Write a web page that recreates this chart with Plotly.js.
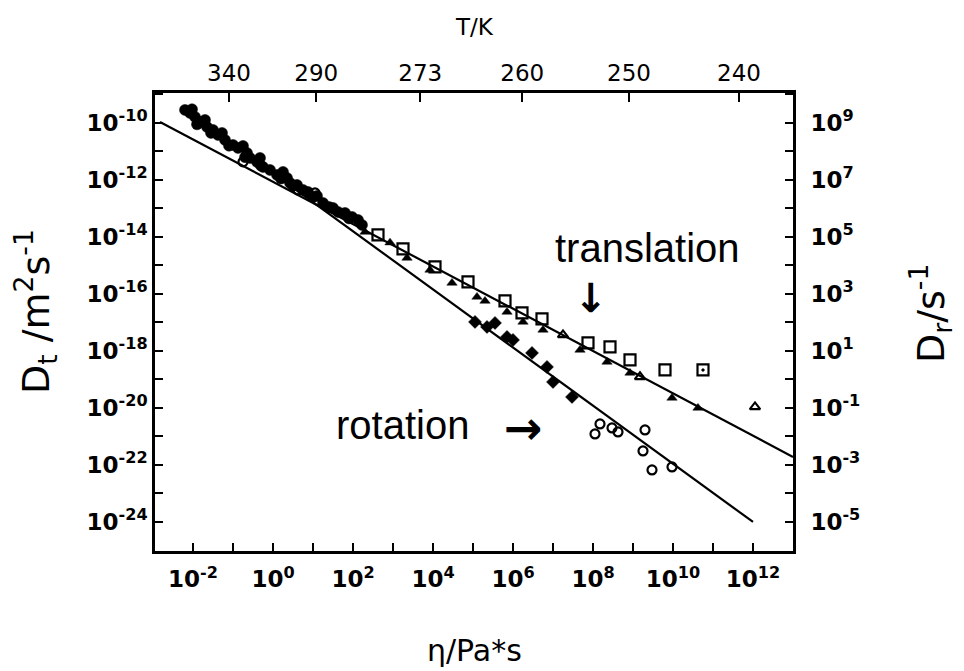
<!DOCTYPE html>
<html>
<head>
<meta charset="utf-8">
<script src="https://cdn.plot.ly/plotly-3.0.1.min.js"></script>
<style>html,body{margin:0;padding:0;background:#fff;}#chart{width:964px;height:671px;}</style>
</head>
<body>
<div id="chart"></div>
<script>
// ---- data (log10 values) ----
// x: log10(eta / Pa s), y: log10(Dt / m^2 s^-1)
const filledCircleLogEta = [-2.2,-2.025,-2.075,-1.95,-1.9,-1.825,-1.7,-1.65,-1.55,-1.5,-1.375,-1.275,-1.2,-1.1,-1.0,-0.875,-0.75,-0.7,-0.65,-0.575,-0.4,-0.325,-0.3,-0.25,-0.075,0.1,0.2,0.25,0.35,0.425,0.5,0.6,0.75,0.875,1.0,1.1,1.25,1.4,1.5,1.625,1.8,1.9,1.975,2.125,2.225];
const filledCircleLogD   = [-9.544,-9.52,-9.649,-9.789,-10.05,-9.965,-9.895,-10.14,-10.35,-10.246,-10.421,-10.351,-10.596,-10.8,-10.772,-10.877,-10.807,-11.2,-11.053,-11.228,-11.368,-11.228,-11.5,-11.544,-11.649,-11.825,-11.95,-11.719,-11.93,-12.105,-12.2,-12.175,-12.351,-12.421,-12.6,-12.561,-12.807,-12.95,-12.982,-13.123,-13.158,-13.35,-13.298,-13.404,-13.579];

const openCircleLeftLogEta = [-0.75,0.625,1.05];
const openCircleLeftLogD   = [-11.368,-12.351,-12.456];

const squareLogEta = [2.625,3.25,4.05,4.875,5.8,6.225,6.725,7.875,8.425,8.925,9.8];
const squareLogD   = [-13.93,-14.421,-15.053,-15.579,-16.246,-16.667,-16.877,-17.719,-17.86,-18.316,-18.667];
const boxedSquareLogEta = [10.75];
const boxedSquareLogD   = [-18.667];

const triangleLogEta = [2.3,2.925,3.35,3.925,4.475,5.1,5.3,5.85,6.25,6.75,7.675,8.35,8.925,9.975,10.625];
const triangleLogD   = [-13.825,-14.2,-14.737,-15.158,-15.614,-16.105,-16.246,-16.632,-16.982,-17.263,-17.965,-18.386,-18.772,-19.649,-20.0];

const openTriangleLogEta = [7.25,9.175,12.05];
const openTriangleLogD   = [-17.439,-18.912,-19.965];

const diamondLogEta = [5.05,5.35,5.55,5.85,6.0,6.475,6.85,7.0,7.475];
const diamondLogD   = [-16.982,-17.158,-17.018,-17.509,-17.614,-18.07,-18.561,-19.088,-19.614];

const openCircleLogEta = [8.175,8.05,8.475,8.625,9.3,9.25,9.475,9.975];
const openCircleLogD   = [-20.561,-20.912,-20.702,-20.842,-20.772,-21.509,-22.175,-22.07];

// fitted lines (end points)
const transLineLogEta = [-2.825, 13.0];
const transLineLogD   = [-9.965, -21.72];
const rotLineLogEta   = [-2.1, 12.0];
const rotLineLogD     = [-9.62, -24.0];

// axes
const xLabelExp = [-2,0,2,4,6,8,10,12];
const xMinorExp = [-1,1,3,5,7,9,11];
const yLabelExp = [-24,-22,-20,-18,-16,-14,-12,-10];
const yMinorExp = [-25,-23,-21,-19,-17,-15,-13,-11,-9];
const drOffset = 19;   // log10(Dr/s^-1) = log10(Dt) + 19
const tempLabels = ['340','290','273','260','250','240'];
const tempLogEta = [-1.1, 1.08, 3.68, 6.23, 8.9, 11.65];

// ---- build ----
const p10 = a => a.map(v => Math.pow(10, v));
const supText = e => '10<sup>' + (e < 0 ? '-' + Math.abs(e) : e) + '</sup>';

function pts(lx, ly, symbol, size, filled) {
  return {
    x: p10(lx), y: p10(ly), type: 'scatter', mode: 'markers', xaxis: 'x', yaxis: 'y',
    marker: {symbol: symbol, size: size, color: '#000',
             line: {color: '#000', width: filled ? 0.5 : 2.2}},
    hoverinfo: 'skip', showlegend: false
  };
}
function line(lx, ly) {
  return {x: p10(lx), y: p10(ly), type: 'scatter', mode: 'lines', xaxis: 'x', yaxis: 'y',
          line: {color: '#000', width: 2.2}, hoverinfo: 'skip', showlegend: false};
}

const traces = [
  line(transLineLogEta, transLineLogD),
  line(rotLineLogEta, rotLineLogD),
  pts(filledCircleLogEta, filledCircleLogD, 'circle', 11, true),
  pts(openCircleLeftLogEta, openCircleLeftLogD, 'circle-open', 9, false),
  pts(squareLogEta, squareLogD, 'square-open', 11, false),
  pts(boxedSquareLogEta, boxedSquareLogD, 'square-open-dot', 11, false),
  pts(triangleLogEta, triangleLogD, 'triangle-up', 9, true),
  pts(openTriangleLogEta, openTriangleLogD, 'triangle-up-open', 9, false),
  pts(diamondLogEta, diamondLogD, 'diamond', 10, true),
  pts(openCircleLogEta, openCircleLogD, 'circle-open', 9, false),
  // carrier trace for the top / right axes
  {x: [Math.pow(10, 0)], y: [Math.pow(10, 0)], xaxis: 'x2', yaxis: 'y2', type: 'scatter', mode: 'markers',
   marker: {opacity: 0}, hoverinfo: 'skip', showlegend: false}
];

const tickFont = {family: 'DejaVu Sans', size: 23, color: '#000', weight: 'bold'};
const axisCommon = {showgrid: false, zeroline: false, showline: true, linecolor: '#000', linewidth: 2.8,
                    ticks: 'inside', tickcolor: '#000', tickwidth: 2, ticklen: 8};
const minorOf = exps => ({tickmode: 'array', tickvals: p10(exps), ticks: 'inside', ticklen: 8,
                          tickwidth: 2, tickcolor: '#000', showgrid: false});

const xRange = [-2.95, 13.0];
const yRange = [-25.02, -8.95];

const layout = {
  width: 964, height: 671,
  margin: {l: 155, r: 171, t: 93, b: 120},
  paper_bgcolor: '#fff', plot_bgcolor: '#fff',
  showlegend: false,
  xaxis: Object.assign({}, axisCommon, {
    type: 'log', range: xRange,
    tickmode: 'array', tickvals: p10(xLabelExp), ticktext: xLabelExp.map(supText),
    minor: minorOf(xMinorExp), ticklabelstandoff: 6,
    tickfont: tickFont, mirror: false
  }),
  xaxis2: Object.assign({}, axisCommon, {
    type: 'log', range: xRange, overlaying: 'x', side: 'top',
    tickmode: 'array', tickvals: p10(tempLogEta), ticktext: tempLabels,
    tickfont: {family: 'DejaVu Sans', size: 23, color: '#000'}, ticklen: 9
  }),
  yaxis: Object.assign({}, axisCommon, {
    type: 'log', range: yRange,
    tickmode: 'array', tickvals: p10(yLabelExp), ticktext: yLabelExp.map(supText),
    minor: minorOf(yMinorExp),
    tickfont: tickFont, mirror: false
  }),
  yaxis2: Object.assign({}, axisCommon, {
    type: 'log', range: [yRange[0] + drOffset, yRange[1] + drOffset], overlaying: 'y', side: 'right',
    tickmode: 'array', tickvals: p10(yLabelExp.map(e => e + drOffset)),
    ticktext: yLabelExp.map(e => supText(e + drOffset)),
    minor: minorOf(yMinorExp.map(e => e + drOffset)), ticklabelstandoff: 10,
    tickfont: tickFont
  }),
  annotations: [
    {text: 'T/K', xref: 'paper', yref: 'paper', x: 0.5, y: 1, yshift: 66, xanchor: 'center', yanchor: 'middle',
     showarrow: false, font: {family: 'DejaVu Sans', size: 23, color: '#000'}},
    {text: '\u03b7/Pa*s', xref: 'paper', yref: 'paper', x: 0.5, y: 0, yshift: -99, xanchor: 'center', yanchor: 'middle',
     showarrow: false, font: {family: 'DejaVu Sans', size: 30, color: '#000'}},
    {text: 'D<sub>t</sub> /m<sup>2</sup>s<sup>-1</sup>', xref: 'paper', yref: 'paper', x: 0, xshift: -120, y: 0.5,
     yshift: 10, textangle: -90, xanchor: 'center', yanchor: 'middle', showarrow: false,
     font: {family: 'DejaVu Sans', size: 38, color: '#000'}},
    {text: 'D<sub>r</sub>/s<sup>-1</sup>', xref: 'paper', yref: 'paper', x: 1, xshift: 137, y: 0.5,
     yshift: 8, textangle: -90, xanchor: 'center', yanchor: 'middle', showarrow: false,
     font: {family: 'DejaVu Sans', size: 38, color: '#000'}},
    {text: 'translation', xref: 'paper', yref: 'paper', x: (647 - 155) / 638, y: (551 - 248) / 458,
     xanchor: 'center', yanchor: 'middle', showarrow: false,
     font: {family: 'Liberation Sans', size: 40, color: '#000'}},
    {text: '\u2193', xref: 'paper', yref: 'paper', x: (591 - 155) / 638, y: (551 - 298) / 458,
     xanchor: 'center', yanchor: 'middle', showarrow: false,
     font: {family: 'DejaVu Sans', size: 40, color: '#000', weight: 'bold'}},
    {text: 'rotation', xref: 'paper', yref: 'paper', x: (402 - 155) / 638, y: (551 - 425) / 458,
     xanchor: 'center', yanchor: 'middle', showarrow: false,
     font: {family: 'Liberation Sans', size: 40, color: '#000'}},
    {text: '\u2192', xref: 'paper', yref: 'paper', x: (523 - 155) / 638, y: (551 - 428) / 458,
     xanchor: 'center', yanchor: 'middle', showarrow: false,
     font: {family: 'DejaVu Sans', size: 46, color: '#000', weight: 'bold'}}
  ]
};

Plotly.newPlot('chart', traces, layout, {staticPlot: true, displayModeBar: false});
</script>
</body>
</html>
